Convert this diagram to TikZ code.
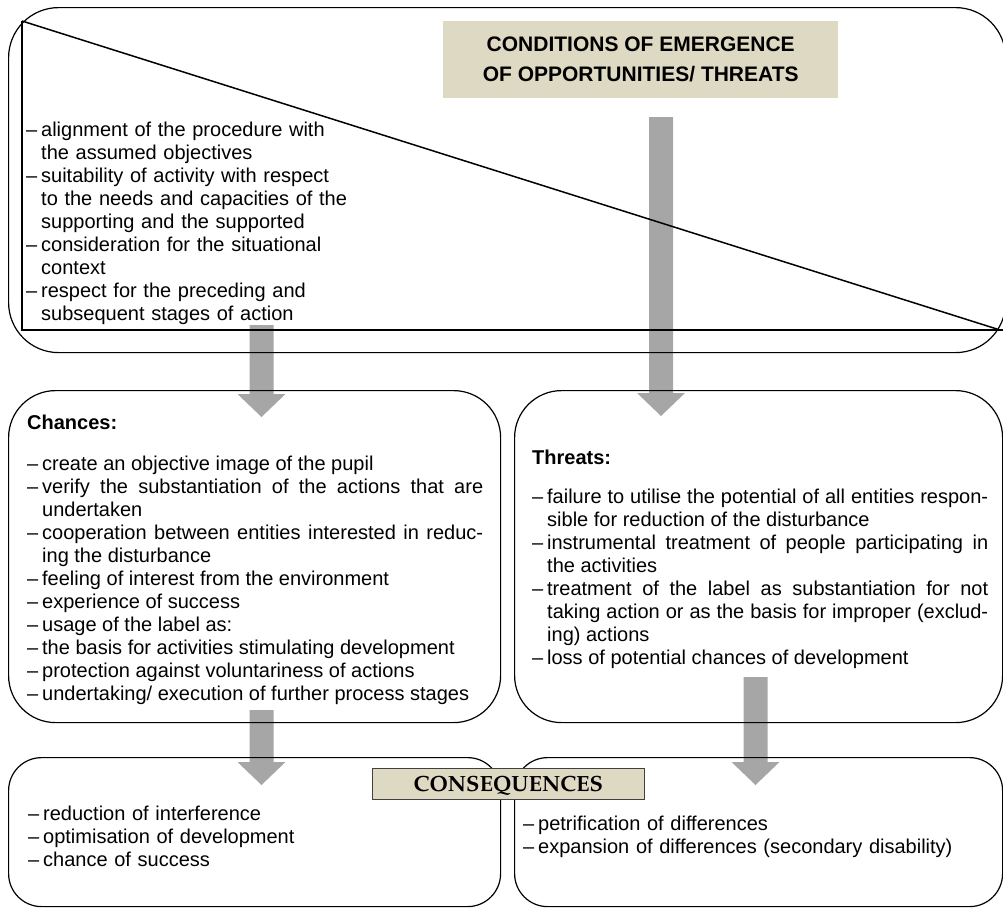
\documentclass[tikz,border=0pt]{standalone}
\usepackage[T1,TU]{fontenc}
\usepackage{fontspec}
\setmainfont{Liberation Sans}
\usetikzlibrary{calc,backgrounds}
\definecolor{arrowgray}{RGB}{166,166,166}
\definecolor{beige}{RGB}{221,217,195}
\newcommand\itm{\par\noindent\hangindent=15pt\hangafter=1\makebox[15pt][l]{\strut–}}
\newcommand\conseqfont{\fontencoding{T1}\fontfamily{ppl}\fontseries{b}\fontshape{n}\fontsize{22}{26}\selectfont}
\newcommand\blockarr[2]{%
  \fill[arrowgray] let \p1=(#1), \p2=(#2) in
   (\x1-12pt,\y1) -- (\x1+12pt,\y1) -- (\x1+12pt,\y2+23pt) -- (\x1+24pt,\y2+23pt)
   -- (\x1,\y2) -- (\x1-24pt,\y2+23pt) -- (\x1-12pt,\y2+23pt) -- cycle;}
\tikzset{
  roundbox/.style={draw=black, line width=1.2pt, rounded corners=#1, anchor=north west, inner sep=0pt},
  triline/.style={draw=black, line width=1.5pt},
  bodytext/.style={anchor=north west, inner sep=0pt, font=\fontsize{20}{23}\selectfont},
  headtext/.style={anchor=base west, inner sep=0pt, font=\fontsize{20}{23}\selectfont\bfseries},
}
\begin{document}
\begin{tikzpicture}[x=1pt,y=-1pt]
\useasboundingbox (0,0) rectangle (1003,908);
% boxes
\node[roundbox=50pt, minimum width=997pt, minimum height=345pt] (topbox) at (8,7) {};
\node[roundbox=47pt, minimum width=492pt, minimum height=332pt] (chances) at (8,390) {};
\node[roundbox=47pt, minimum width=488pt, minimum height=332pt] (threats) at (514,390) {};
\node[roundbox=33pt, minimum width=492pt, minimum height=149pt] (consL) at (8,757) {};
\node[roundbox=33pt, minimum width=488pt, minimum height=149pt] (consR) at (514,757) {};
% triangle
\coordinate (tA) at (22,21);
\coordinate (tB) at (22,330);
\coordinate (tC) at (1003,330);
\coordinate (tD) at (1000,330);
\draw[triline] (tA) -- (tB) -- (tC);
\draw[triline] (tA) -- (tD);
% title
\node[fill=beige, minimum width=395pt, minimum height=77pt, anchor=north west, inner sep=0pt,
      align=center, font=\fontsize{21}{30}\selectfont\bfseries] (title) at (443,21)
  {CONDITIONS OF EMERGENCE\\OF OPPORTUNITIES/ THREATS};
% top-left text
\node[bodytext, text width=340pt, align=left] (condtext) at (26,113) {%
\itm alignment of the procedure with\newline the assumed objectives
\itm suitability of activity with respect\newline to the needs and capacities of the\newline supporting and the supported
\itm consideration for the situational\newline context
\itm respect for the preceding and\newline subsequent stages of action\par};
% chances
\node[headtext] (chhead) at (27,429) {Chances:};
\node[bodytext, text width=456pt, align=justify] (chtext) at (27,447) {%
\itm create an objective image of the pupil
\itm verify the substantiation of the actions that are\linebreak undertaken
\itm cooperation between entities interested in reduc-\linebreak ing the disturbance
\itm feeling of interest from the environment
\itm experience of success
\itm usage of the label as:
\itm the basis for activities stimulating development
\itm protection against voluntariness of actions
\itm undertaking/ execution of further process stages\par};
% threats
\node[headtext] (thhead) at (532,464) {Threats:};
\node[bodytext, text width=456pt, align=justify] (thtext) at (532,480) {%
\itm failure to utilise the potential of all entities respon-\linebreak sible for reduction of the disturbance
\itm instrumental treatment of people participating in\linebreak the activities
\itm treatment of the label as substantiation for not\linebreak taking action or as the basis for improper (exclud-\linebreak ing) actions
\itm loss of potential chances of development\par};
% consequences
\node[bodytext, text width=400pt, align=left] (cLtext) at (28,797) {%
\itm reduction of interference
\itm optimisation of development
\itm chance of success\par};
\node[bodytext, text width=460pt, align=left] (cRtext) at (523,807) {%
\itm petrification of differences
\itm expansion of differences (secondary disability)\par};
\node[draw=black!75, line width=0.8pt, fill=beige, minimum width=272pt, minimum height=31pt,
      anchor=north west, inner sep=0pt, text height=15pt, text depth=0pt, font=\conseqfont]
      (conseq) at (372,768) {CONSEQUENCES};
% arrows
\coordinate (a1s) at (661,117);   \coordinate (a1e) at (661,416);
\coordinate (a2s) at (261.5,325); \coordinate (a2e) at (261.5,417);
\coordinate (a3s) at (261.5,710); \coordinate (a3e) at (261.5,785);
\coordinate (a4s) at (755.5,677); \coordinate (a4e) at (755.5,785);
\begin{pgfonlayer}{background}
\blockarr{a1s}{a1e}
\blockarr{a2s}{a2e}
\blockarr{a3s}{a3e}
\blockarr{a4s}{a4e}
\end{pgfonlayer}
\end{tikzpicture}
\end{document}
